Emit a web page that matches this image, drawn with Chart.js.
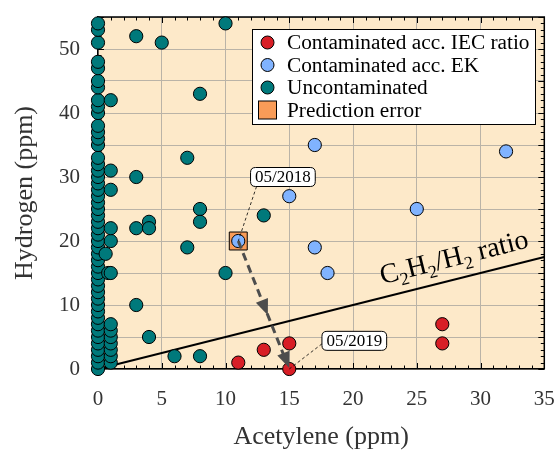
<!DOCTYPE html>
<html><head><meta charset="utf-8">
<script src="https://cdn.jsdelivr.net/npm/chart.js@4/dist/chart.umd.min.js"></script>
<style>html,body{margin:0;padding:0;background:#fff;}</style>
</head><body>
<canvas id="c" width="558" height="450" style="width:558px;height:450px;display:block"></canvas>
<script>
// ---- data ----
const iecX = [11, 13, 15, 15, 27, 27];
const iecY = [1, 3, 4, 0, 7, 4];
const ekX = [11, 15, 17, 17, 18, 25, 32];
const ekY = [20, 27, 35, 19, 15, 25, 34];
const uncX = [0,0,0,0,0,0,0,0,0,0,0,0,0,0,0,0,0,0,0,0,0,0,0,0,0,0,0,0,0,0,0,0,0,0,0,0,0,0,0,0,0,0,0,0,0,0,0,0,
  1,1,1,1,1,1,1,0.8,1,0.6,1,1,1,1,1,
  3,5,10,8,7,3,8,8,13,3,4,4,7,10,3,4,6,8];
const uncY = [0,1,2,3,4,5,6,7,8,9,10,11,12,13,14,15,16,17,18,19,20,21,22,23,24,25,26,27,28,29,30,31,32,33,35,36,37,38,40,41,42,44,45,47,48,51,53,54,
  1,2,3,4,5,6,7,15,15,18,20,22,28,31,42,
  52,51,54,43,33,30,25,23,24,22,23,22,19,15,10,5,2,2];
const errX = [11];
const errY = [20];
const ratioX = [0, 35];
const ratioY = [0, 17.5];
const labels = ['Contaminated acc. IEC ratio', 'Contaminated acc. EK', 'Uncontaminated', 'Prediction error'];
const arrowFrom = [11, 20], arrowTo = [15, 0];
const note2018 = {text: '05/2018', at: [14.5, 30], target: [11, 20]};
const note2019 = {text: '05/2019', at: [20.1, 4.4], target: [15, 0]};
const ratioLabelAt = [27.9, 17.5];

const zip = (xs, ys) => xs.map((x, i) => ({x, y: ys[i]}));
const SERIF = "'Liberation Serif', 'Times New Roman', serif";
const C_RED = '#d81e26', C_BLUE = '#80b3ff', C_TEAL = '#00797b', C_ORANGE = '#f99c58';

const bgPlugin = {
  id: 'bg',
  beforeDraw(chart) {
    const {ctx, chartArea: a} = chart;
    ctx.save();
    ctx.fillStyle = '#fde9c9';
    ctx.fillRect(a.left, a.top, a.right - a.left, a.bottom - a.top);
    ctx.restore();
  },
  beforeDatasetsDraw(chart) {
    const {ctx, chartArea: a, scales: {x, y}} = chart;
    ctx.save();
    ctx.strokeStyle = '#000';
    ctx.lineWidth = 1.5;
    ctx.beginPath();
    ctx.moveTo(a.left, a.top); ctx.lineTo(a.right, a.top); ctx.lineTo(a.right, a.bottom);
    ctx.stroke();
    ctx.lineWidth = 1;
    ctx.beginPath();
    for (let v = x.min; v <= x.max; v += 1) {
      const px = Math.round(x.getPixelForValue(v)) + 0.5;
      const L = v % 5 === 0 ? 6 : 3.5;
      ctx.moveTo(px, a.top); ctx.lineTo(px, a.top + L);
      ctx.moveTo(px, a.bottom); ctx.lineTo(px, a.bottom - L);
    }
    for (let v = y.min; v <= y.max; v += 1) {
      const py = Math.round(y.getPixelForValue(v)) + 0.5;
      const L = v % 5 === 0 ? 6 : 3.5;
      ctx.moveTo(a.right, py); ctx.lineTo(a.right - L, py);
      ctx.moveTo(a.left, py); ctx.lineTo(a.left + L, py);
    }
    ctx.stroke();
    ctx.restore();
  }
};

function roundRect(ctx, x, y, w, h, r) {
  ctx.beginPath();
  ctx.moveTo(x + r, y); ctx.lineTo(x + w - r, y); ctx.quadraticCurveTo(x + w, y, x + w, y + r);
  ctx.lineTo(x + w, y + h - r); ctx.quadraticCurveTo(x + w, y + h, x + w - r, y + h);
  ctx.lineTo(x + r, y + h); ctx.quadraticCurveTo(x, y + h, x, y + h - r);
  ctx.lineTo(x, y + r); ctx.quadraticCurveTo(x, y, x + r, y);
  ctx.closePath();
}

function arrowHead(ctx, tx, ty, ang, len, half) {
  ctx.beginPath();
  ctx.moveTo(tx, ty);
  ctx.lineTo(tx - len * Math.cos(ang) + half * Math.sin(ang), ty - len * Math.sin(ang) - half * Math.cos(ang));
  ctx.lineTo(tx - len * Math.cos(ang) - half * Math.sin(ang), ty - len * Math.sin(ang) + half * Math.cos(ang));
  ctx.closePath();
  ctx.fill();
}

const annoPlugin = {
  id: 'anno',
  afterDatasetsDraw(chart) {
    const {ctx, scales: {x, y}} = chart;
    const P = (p) => [x.getPixelForValue(p[0]), y.getPixelForValue(p[1])];
    ctx.save();
    // ratio label
    const [lx, ly] = P(ratioLabelAt);
    const [x0, y0] = P([ratioX[0], ratioY[0]]);
    const [x1, y1] = P([ratioX[1], ratioY[1]]);
    const ang = Math.atan2(y1 - y0, x1 - x0);
    const pieces = [['C', 0], ['2', 1], ['H', 0], ['2', 1], ['/H', 0], ['2', 1], [' ratio', 0]];
    const big = '28px ' + SERIF, small = '18px ' + SERIF;
    let W = 0;
    pieces.forEach(([t, s]) => { ctx.font = s ? small : big; W += ctx.measureText(t).width; });
    ctx.translate(lx, ly); ctx.rotate(ang);
    ctx.fillStyle = '#000'; ctx.textBaseline = 'alphabetic'; ctx.textAlign = 'left';
    let cx = -W / 2;
    pieces.forEach(([t, s]) => {
      ctx.font = s ? small : big;
      ctx.fillText(t, cx, s ? 15 : 9);
      cx += ctx.measureText(t).width;
    });
    ctx.setTransform(1, 0, 0, 1, 0, 0);

    // gray dashed arrow
    const [ax0, ay0] = P(arrowFrom), [ax1, ay1] = P(arrowTo);
    const aang = Math.atan2(ay1 - ay0, ax1 - ax0);
    ctx.strokeStyle = '#4d4d4d'; ctx.fillStyle = '#4d4d4d';
    ctx.lineWidth = 3; ctx.setLineDash([8, 5]);
    ctx.beginPath(); ctx.moveTo(ax0, ay0);
    ctx.lineTo(ax1 - 8 * Math.cos(aang), ay1 - 8 * Math.sin(aang)); ctx.stroke();
    ctx.setLineDash([]);
    const t = 0.58;
    arrowHead(ctx, ax0 + (ax1 - ax0) * t, ay0 + (ay1 - ay0) * t, aang, 16, 6.5);
    arrowHead(ctx, ax1, ay1 - 1, aang, 16, 6.5);

    // notes
    [note2018, note2019].forEach(n => {
      const [nx, ny] = P(n.at), [tx, ty] = P(n.target);
      ctx.font = '17px ' + SERIF;
      const w = ctx.measureText(n.text).width + 9, h = 19;
      ctx.strokeStyle = '#000'; ctx.lineWidth = 0.8; ctx.setLineDash([3, 2.5]);
      ctx.beginPath();
      ctx.moveTo(n === note2018 ? nx - w / 2 + 6 : nx - w / 2, n === note2018 ? ny + h / 2 : ny + 3);
      ctx.lineTo(tx, ty); ctx.stroke();
      ctx.setLineDash([]);
      roundRect(ctx, nx - w / 2, ny - h / 2, w, h, 5);
      ctx.fillStyle = '#fff'; ctx.fill();
      ctx.lineWidth = 1; ctx.stroke();
      ctx.fillStyle = '#000'; ctx.textAlign = 'center'; ctx.textBaseline = 'middle';
      ctx.fillText(n.text, nx, ny + 1);
    });
    ctx.restore();
  },
  afterDraw(chart) {
    const {ctx} = chart;
    ctx.save();
    const bx = 252, by = 29, bw = 283, bh = 95;
    ctx.fillStyle = '#fff'; ctx.fillRect(bx, by, bw, bh);
    ctx.strokeStyle = '#000'; ctx.lineWidth = 1; ctx.strokeRect(bx + 0.5, by + 0.5, bw, bh);
    const ds = chart.data.datasets;
    const rowY = [42.5, 65, 87.5, 110];
    ctx.font = '21.3px ' + SERIF; ctx.textBaseline = 'middle'; ctx.textAlign = 'left';
    for (let i = 0; i < 4; i++) {
      const d = ds[i];
      ctx.fillStyle = d.backgroundColor; ctx.strokeStyle = '#000'; ctx.lineWidth = 1;
      if (d.pointStyle === 'rect') {
        ctx.fillRect(258.5, rowY[i] - 9, 18, 18); ctx.strokeRect(258.5, rowY[i] - 9, 18, 18);
      } else {
        ctx.beginPath(); ctx.arc(267.5, rowY[i], 6.5, 0, Math.PI * 2); ctx.fill(); ctx.stroke();
      }
      ctx.fillStyle = '#000';
      ctx.fillText(d.label, 287, rowY[i] + 1);
    }
    ctx.restore();
  }
};

const ptBase = {borderColor: '#000', borderWidth: 1, pointRadius: 6.6, pointHoverRadius: 6.6, clip: false, showLine: false};
const zeroPad = s => { s.paddingTop = 0; s.paddingBottom = 0; s.paddingLeft = 0; s.paddingRight = 0; };

new Chart(document.getElementById('c'), {
  type: 'scatter',
  data: {
    datasets: [
      Object.assign({label: labels[0], data: zip(iecX, iecY), backgroundColor: C_RED, order: 1}, ptBase),
      Object.assign({label: labels[1], data: zip(ekX, ekY), backgroundColor: C_BLUE, order: 2}, ptBase),
      Object.assign({label: labels[2], data: zip(uncX, uncY), backgroundColor: C_TEAL, order: 3}, ptBase),
      Object.assign({}, ptBase, {label: labels[3], data: zip(errX, errY), backgroundColor: C_ORANGE, pointStyle: 'rect', pointRadius: 12.7, pointHoverRadius: 12.7, order: 4}),
      {label: 'ratio', data: zip(ratioX, ratioY), showLine: true, borderColor: '#000', borderWidth: 2, pointRadius: 0, fill: false, order: 5, clip: false}
    ]
  },
  options: {
    responsive: false,
    animation: false,
    devicePixelRatio: 1,
    layout: {padding: {top: 17, right: 12, left: 0, bottom: 0}},
    plugins: {legend: {display: false}, tooltip: {enabled: false}},
    scales: {
      x: {
        type: 'linear', min: 0, max: 35,
        afterFit: s => { s.height = 81; zeroPad(s); },
        ticks: {stepSize: 5, padding: 18, color: '#333', font: {family: SERIF, size: 21}},
        grid: {color: '#bab3a7', lineWidth: 1, drawTicks: false},
        border: {display: true, color: '#000', width: 1.5},
        title: {display: true, text: 'Acetylene (ppm)', color: '#333', font: {family: SERIF, size: 26}, padding: {top: 0, bottom: -3}}
      },
      y: {
        type: 'linear', min: 0, max: 55,
        afterFit: s => { s.width = 98; zeroPad(s); },
        ticks: {stepSize: 5, padding: 18, color: '#333', font: {family: SERIF, size: 21},
          callback: v => (v % 10 === 0 ? String(v) : '')},
        grid: {color: '#bab3a7', lineWidth: 1, drawTicks: false},
        border: {display: true, color: '#000', width: 1.5},
        title: {display: true, text: 'Hydrogen (ppm)', color: '#333', font: {family: SERIF, size: 26}, padding: {top: 10, bottom: 0}}
      }
    }
  },
  plugins: [bgPlugin, annoPlugin]
});
</script>
</body></html>
